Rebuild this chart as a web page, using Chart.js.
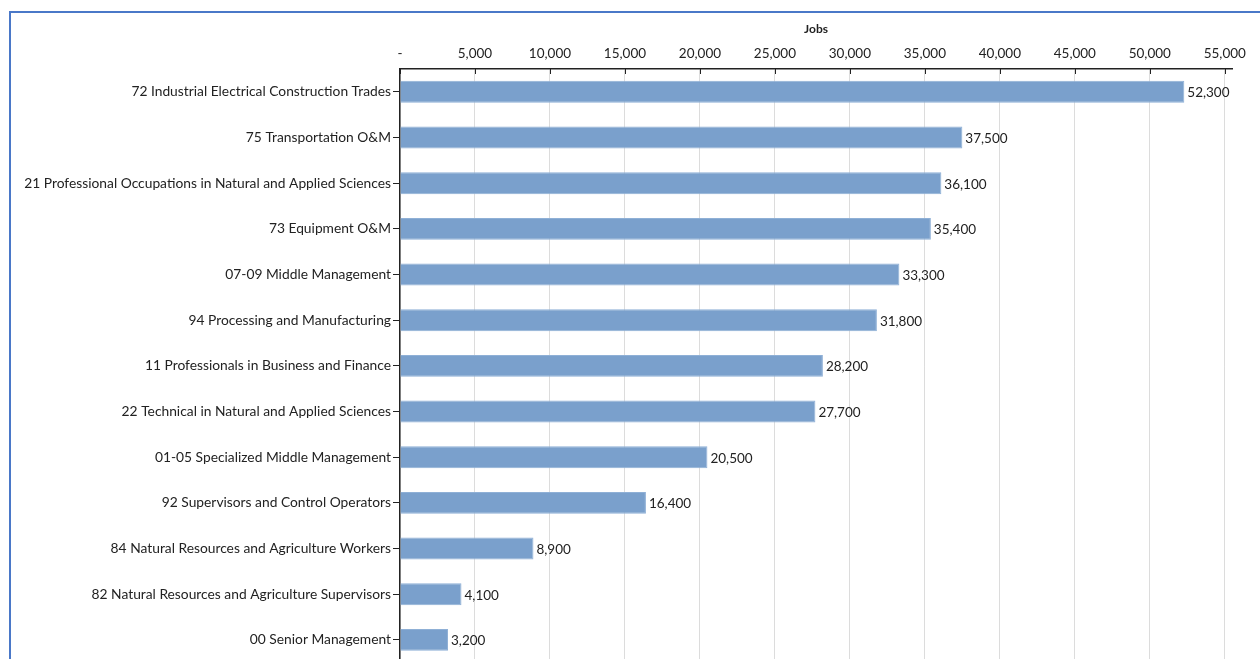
<!DOCTYPE html>
<html>
<head>
<meta charset="utf-8">
<script src="https://cdn.jsdelivr.net/npm/chart.js@4"></script>
<style>
  html, body { margin:0; padding:0; background:#fff; overflow:hidden; }
  #frame { position:absolute; left:9px; top:11px; width:1260px; height:660px;
           border-left:2px solid #4a78c8; border-top:2px solid #4a78c8; }
  #wrap { position:absolute; left:0; top:0; width:1260px; height:673px; }
</style>
</head>
<body>
<div id="frame"></div>
<div id="wrap"><canvas id="chart"></canvas></div>
<script>
// categories, top to bottom
const categories = [
  "72 Industrial Electrical Construction Trades",
  "75 Transportation O&M",
  "21 Professional Occupations in Natural and Applied Sciences",
  "73 Equipment O&M",
  "07-09 Middle Management",
  "94 Processing and Manufacturing",
  "11 Professionals in Business and Finance",
  "22 Technical in Natural and Applied Sciences",
  "01-05 Specialized Middle Management",
  "92 Supervisors and Control Operators",
  "84 Natural Resources and Agriculture Workers",
  "82 Natural Resources and Agriculture Supervisors",
  "00 Senior Management"
];
const jobs = [52300, 37500, 36100, 35400, 33300, 31800, 28200, 27700, 20500, 16400, 8900, 4100, 3200];
const tickValues = [0, 5000, 10000, 15000, 20000, 25000, 30000, 35000, 40000, 45000, 50000, 55000];

const fmt = v => v === 0 ? "-" : v.toLocaleString("en-US");
const FONT = "Lato, 'Open Sans', sans-serif";

// value labels at bar ends + small inward tick marks on the top axis
const extras = {
  id: "extras",
  afterDatasetsDraw(chart) {
    const ctx = chart.ctx;
    const meta = chart.getDatasetMeta(0);
    ctx.save();
    ctx.font = "13.5px " + FONT;
    ctx.fillStyle = "#222";
    ctx.textBaseline = "middle";
    ctx.textAlign = "left";
    meta.data.forEach((bar, i) => {
      ctx.fillText(fmt(jobs[i]), bar.x + 3, bar.y + 1);
    });
    const xs = chart.scales.x;
    const top = chart.chartArea.top;
    ctx.strokeStyle = "#222";
    ctx.lineWidth = 1;
    tickValues.forEach(v => {
      const px = Math.round(xs.getPixelForValue(v)) + 0.5;
      ctx.beginPath();
      ctx.moveTo(px, top);
      ctx.lineTo(px, top + 5);
      ctx.stroke();
    });
    ctx.restore();
  }
};

new Chart(document.getElementById("chart"), {
  type: "bar",
  data: {
    labels: categories,
    datasets: [{
      data: jobs,
      backgroundColor: "#7aa0cc",
      borderColor: "#8fb0d6",
      borderWidth: 1,
      categoryPercentage: 1,
      barPercentage: 0.48
    }]
  },
  options: {
    indexAxis: "y",
    responsive: true,
    maintainAspectRatio: false,
    animation: false,
    layout: { padding: { left: 0, right: 28, top: 0, bottom: 0 } },
    plugins: { legend: { display: false }, tooltip: { enabled: false } },
    scales: {
      x: {
        position: "top",
        min: 0,
        max: 55480,
        afterBuildTicks: s => { s.ticks = tickValues.map(v => ({ value: v })); },
        afterFit: s => { s.height = 69; },
        ticks: {
          callback: v => fmt(v),
          color: "#222",
          font: { family: FONT, size: 13.5 },
          padding: 7,
          maxRotation: 0
        },
        grid: { color: "#dcdcdc", drawTicks: false },
        border: { color: "#222", width: 1.5 },
        title: {
          display: true,
          text: "Jobs",
          color: "#222",
          font: { family: FONT, size: 12, weight: "bold" },
          padding: { top: 22, bottom: 0 }
        }
      },
      y: {
        afterFit: s => { s.width = 400; },
        ticks: {
          color: "#222",
          font: { family: FONT, size: 13.8 },
          padding: 2
        },
        grid: { display: true, offset: false, drawOnChartArea: false, drawTicks: true, tickLength: 7, tickColor: "#222" },
        border: { color: "#222", width: 1.5 }
      }
    }
  },
  plugins: [extras]
});
</script>
</body>
</html>
